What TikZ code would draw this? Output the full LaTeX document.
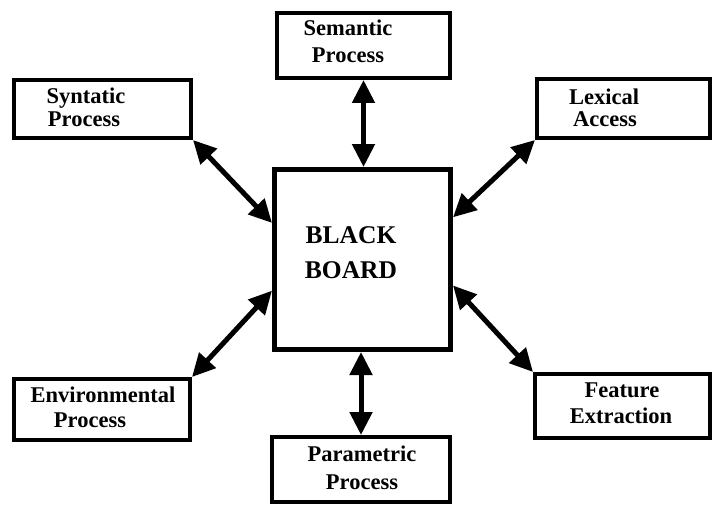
\documentclass[tikz,border=0pt]{standalone}
\usepackage{fontspec}
\setmainfont{Liberation Serif}
\usetikzlibrary{arrows.meta}
\begin{document}
\begin{tikzpicture}[x=1pt,y=-1pt,
  box/.style={draw, line width=4pt, rectangle, inner sep=0pt},
  bigbox/.style={draw, line width=5pt, rectangle, inner sep=0pt},
  lbl/.style={anchor=base, inner sep=0pt, font=\bfseries\fontsize{22.5}{25}\selectfont},
  biglbl/.style={anchor=base, inner sep=0pt, font=\bfseries\fontsize{25.5}{30}\selectfont},
  link/.style={line width=5pt, {Triangle[length=23pt,width=22pt]}-{Triangle[length=23pt,width=22pt]}}]
\useasboundingbox (0,0) rectangle (714,508);
\fill[white] (0,0) rectangle (714,508);
% boxes
\node[box, minimum width=173pt, minimum height=65pt] (sem) at (363.5,45.5) {};
\node[box, minimum width=177pt, minimum height=58pt] (syn) at (102.5,109) {};
\node[box, minimum width=173pt, minimum height=59pt] (lex) at (623.5,108.5) {};
\node[box, minimum width=176pt, minimum height=61pt] (env) at (102,409.5) {};
\node[box, minimum width=175pt, minimum height=64pt] (fea) at (622.5,406) {};
\node[box, minimum width=178pt, minimum height=65pt] (par) at (361,469.5) {};
\node[bigbox, minimum width=176pt, minimum height=180pt] (bb) at (362.5,259.5) {};
% labels
\node[lbl] (semA) at (348,36) {Semantic};
\node[lbl] (semB) at (348,63) {Process};
\node[lbl] (synA) at (86,103) {Syntatic};
\node[lbl] (synB) at (84,126) {Process};
\node[lbl] (lexA) at (604,105) {Lexical};
\node[lbl] (lexB) at (605,126) {Access};
\node[lbl] (envA) at (103,402) {Environmental};
\node[lbl] (envB) at (90,427) {Process};
\node[lbl] (feaA) at (622,397) {Feature};
\node[lbl] (feaB) at (621,423) {Extraction};
\node[lbl] (parA) at (362,461) {Parametric};
\node[lbl] (parB) at (362,489) {Process};
\node[biglbl] (bbA) at (351,243) {BLACK};
\node[biglbl] (bbB) at (351,278) {BOARD};
% connectors
\draw[link] (sem.south) -- (sem.south |- bb.north);
\draw[link] (par.north) -- (par.north |- bb.south);
\draw[link] (syn.south east) -- (bb.158);
\draw[link] (lex.south west) -- (bb.25);
\draw[link] (env.north east) -- (bb.-161);
\draw[link] (fea.north west) -- (bb.-16);
\end{tikzpicture}
\end{document}
